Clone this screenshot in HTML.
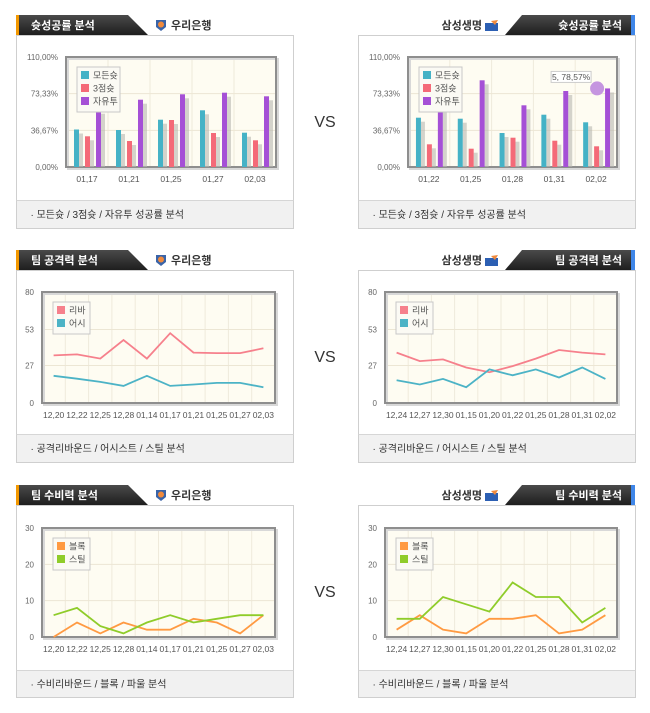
<!DOCTYPE html>
<html><head><meta charset="utf-8">
<style>
html,body{margin:0;padding:0;background:#fff;}
svg{display:block;font-family:"Liberation Sans","Noto Sans CJK KR",sans-serif;}
</style></head>
<body>
<svg id="page" width="650" height="713" viewBox="0 0 650 713" xmlns="http://www.w3.org/2000/svg"></svg>
<script>
// ---- data ----
const bar1Dates = ["01,17","01,21","01,25","01,27","02,03"];
const bar1Teal = [37.5, 37, 47.3, 56.7, 34.3];
const bar1Red = [30.7, 26, 47, 34, 26.7];
const bar1Purple = [57.3, 67.3, 72.7, 74.3, 70.7];
const bar2Dates = ["01,22","01,25","01,28","01,31","02,02"];
const bar2Teal = [49.3, 48.3, 34, 52.3, 44.7];
const bar2Red = [22.7, 18.3, 29.3, 26.3, 20.7];
const bar2Purple = [63, 86.7, 61.7, 76, 78.57];
const barTickValues = [0, 36.67, 73.33, 110];
const barTickLabels = ["0,00%","36,67%","73,33%","110,00%"];

const atk1Dates = ["12,20","12,22","12,25","12,28","01,14","01,17","01,21","01,25","01,27","02,03"];
const atk1Reb = [34.3, 35, 32, 45.4, 32, 50.3, 36.3, 36, 36, 39.4];
const atk1Ast = [19.6, 17.5, 15.2, 12.3, 19.6, 12.3, 13.3, 14.5, 14.5, 11.4];
const atk2Dates = ["12,24","12,27","12,30","01,15","01,20","01,22","01,25","01,28","01,31","02,02"];
const atk2Reb = [36.3, 30.2, 31.4, 25.6, 22.2, 26.6, 32, 38.2, 36.3, 35];
const atk2Ast = [16.4, 13.3, 17.4, 11.4, 24.2, 20, 24.2, 18.4, 25.6, 17.4];
const atkTickValues = [0, 27, 53, 80];
const atkTickLabels = ["0","27","53","80"];

const def1Dates = atk1Dates;
const def1Blk = [0, 4, 1, 4, 2, 2, 5, 4, 1, 6];
const def1Stl = [6, 8, 3, 1, 4, 6, 4, 5, 6, 6];
const def2Dates = atk2Dates;
const def2Blk = [2, 6, 2, 1, 5, 5, 6, 1, 2, 6];
const def2Stl = [5, 5, 11, 9, 7, 15, 11, 11, 4, 8];
const defTickValues = [0, 10, 20, 30];
const defTickLabels = ["0","10","20","30"];

const NS = "http://www.w3.org/2000/svg";
const svg = document.getElementById("page");
function mk(tag, attrs, parent, text){
  const e = document.createElementNS(NS, tag);
  for (const k in attrs) e.setAttribute(k, attrs[k]);
  if (text !== undefined) e.textContent = text;
  (parent || svg).appendChild(e);
  return e;
}
function yScale(min, max, top, bottom){ return v => bottom - (v - min) / (max - min) * (bottom - top); }

const defs = mk("defs", {});
const g1 = mk("linearGradient", {id:"tabg", x1:"0", y1:"0", x2:"0", y2:"1"}, defs);
mk("stop", {offset:"0", "stop-color":"#4a4a4a"}, g1);
mk("stop", {offset:"1", "stop-color":"#1e1e1e"}, g1);

function panel(side, top, boxTop, footTop, bottom, title, team, footText){
  const left = side === "L";
  const bx = left ? 16.5 : 358.5, bw = 277;
  const box = mk("rect", {x:bx, y:boxTop+0.5, width:bw, height:bottom-boxTop, fill:"#fff", stroke:"#cfcfcf"});
  
  
  const foot = mk("rect", {x:bx+0.5, y:footTop, width:bw-1, height:bottom-footTop, fill:"#f1f1f1"});
  
  
  mk("line", {x1:bx, x2:bx+bw, y1:footTop+0.5, y2:footTop+0.5, stroke:"#d6d6d6"});
  const ft = mk("text", {x:bx+14, y:(footTop+bottom)/2+4, "font-size":"10", fill:"#333"}, svg, "·  " + footText);
  
  
  const h = boxTop - top;
  if (left){
    const tab = mk("path", {d:`M16 ${top} H128 L148 ${boxTop} H16 Z`, fill:"url(#tabg)"});
    
    
    mk("rect", {x:16, y:top, width:3, height:h, fill:"#f39800"});
    const tt = mk("text", {x:31, y:top+14, "font-size":"11", "font-weight":"bold", fill:"#fff"}, svg, title);
    
    
    const ic = mk("g", {transform:`translate(155 ${top+4})`});
    
    
    mk("path", {d:"M1 1 H11 V8 L6 12 L1 8 Z", fill:"#3a64a8"}, ic);
    mk("circle", {cx:6, cy:5.5, r:3, fill:"#f08a3c"}, ic);
    const tn = mk("text", {x:171, y:top+14, "font-size":"11", "font-weight":"bold", fill:"#333"}, svg, team);
    
    
  } else {
    const tab = mk("path", {d:`M505 ${boxTop} L522 ${top} H633 V${boxTop} Z`, fill:"url(#tabg)"});
    
    
    mk("rect", {x:631, y:top, width:4, height:h, fill:"#3f86e8"});
    const tt = mk("text", {x:622, y:top+14, "font-size":"11", "font-weight":"bold", fill:"#fff", "text-anchor":"end"}, svg, title);
    
    
    const tn = mk("text", {x:482, y:top+14, "font-size":"11", "font-weight":"bold", fill:"#333", "text-anchor":"end"}, svg, team);
    
    
    const ic = mk("g", {transform:`translate(485 ${top+5})`});
    
    
    mk("rect", {x:0, y:3, width:13, height:8, fill:"#2c5fb3"}, ic);
    mk("path", {d:"M6 1 L13 0 L10 5 Z", fill:"#f08a3c"}, ic);
  }
}

function plotFrame(px, py, pw, ph, n, tickVals, tickLabels, min, max, labelX){
  const ys = yScale(min, max, py, py+ph);
  const bg = mk("rect", {x:px, y:py, width:pw, height:ph, fill:"#fefcf2"});
  
  
  for (let i=1;i<n;i++){
    const x = px + pw*i/n;
    mk("line", {x1:x, x2:x, y1:py, y2:py+ph, stroke:"#efeadb", "stroke-width":1});
  }
  tickVals.forEach((v,i)=>{
    const y = ys(v);
    mk("line", {x1:px, x2:px+pw, y1:y, y2:y, stroke:"#ece6d4", "stroke-width":1});
    const t = mk("text", {x:labelX, y:y+3, "font-size":"8", fill:"#666", "text-anchor":"end"}, svg, tickLabels[i]);
    
    
  });
  mk("rect", {x:px+2, y:py+2, width:pw, height:ph, fill:"none", stroke:"#d8d8d8", "stroke-width":2});
  const fr = mk("rect", {x:px, y:py, width:pw, height:ph, fill:"none", stroke:"#8e8e8e", "stroke-width":2});
  
  
  return ys;
}

function xLabels(px, pw, dates, y){
  const cw = pw / dates.length;
  dates.forEach((d,i)=>{
    const t = mk("text", {x:px+cw*(i+0.5), y:y, "font-size":"8.5", fill:"#555", "text-anchor":"middle"}, svg, d);
    
    
  });
}

function legend(x, y, w, items){
  const h = items.length*13 + 6;
  const lg = mk("g", {});
  
  
  mk("rect", {x:x, y:y, width:w, height:h, fill:"#fbfaf4", stroke:"#c8c8c8"}, lg);
  items.forEach((it,i)=>{
    const e = mk("g", {}, lg);
    
    
    mk("rect", {x:x+4, y:y+4+i*13, width:8, height:8, fill:it[1]}, e);
    mk("text", {x:x+16, y:y+11.5+i*13, "font-size":"9", fill:"#555"}, e, it[0]);
  });
}

function barChart(px, py, pw, ph, dates, teal, red, purple){
  const ys = plotFrame(px, py, pw, ph, dates.length, barTickValues, barTickLabels, 0, 110, px-8);
  const cw = pw / dates.length, s = cw/42, bw = 5*s;
  const series = [[teal,"#45b2c6",8,'bar-made-all'],[red,"#f46a78",19,'bar-made-3pt'],[purple,"#a550d6",30,'bar-made-ft']];
  dates.forEach((d,i)=>{
    series.forEach(sr=>{
      const v = sr[0][i], x = px + cw*i + sr[2]*s, y = ys(v);
      mk("rect", {x:x+bw, y:y+4, width:4, height:py+ph-y-4, fill:"#b8b8b0", opacity:0.6});
      const b = mk("rect", {x:x, y:y, width:bw, height:py+ph-y, fill:sr[1]});
      
      
    });
  });
  xLabels(px, pw, dates, py+ph+15);
  legend(px+11, py+10, 43, [["모든슛","#45b2c6"],["3점슛","#f46a78"],["자유투","#a550d6"]]);
  return {ys, cw};
}

function lineChart(px, py, pw, ph, dates, s1, s2, c1, c2, ticks, labels, max, names, lnames){
  const ys = plotFrame(px, py, pw, ph, dates.length, ticks, labels, 0, max, px-8);
  const cw = pw / dates.length;
  [[s1,c1,lnames[0]],[s2,c2,lnames[1]]].forEach(sr=>{
    const pts = sr[0].map((v,i)=>(px+cw*(i+0.5)).toFixed(1)+","+ys(v).toFixed(1)).join(" ");
    const l = mk("polyline", {points:pts, fill:"none", stroke:sr[1], "stroke-width":1.8});
    
    
  });
  xLabels(px, pw, dates, py+ph+15);
  legend(px+11, py+10, 37, [[names[0],c1],[names[1],c2]]);
}

panel("L", 15, 35, 200, 228, "슛성공률 분석", "우리은행", "모든슛 / 3점슛 / 자유투 성공률 분석");
panel("R", 15, 35, 200, 228, "슛성공률 분석", "삼성생명", "모든슛 / 3점슛 / 자유투 성공률 분석");
barChart(66, 57, 210, 110, bar1Dates, bar1Teal, bar1Red, bar1Purple);
const c2 = barChart(408, 57, 209, 110, bar2Dates, bar2Teal, bar2Red, bar2Purple);
{
  const i = bar2Purple.length-1, v = bar2Purple[i];
  const cx = 408 + c2.cw*(i+0.5) + 1, cy = c2.ys(v);
  const dot = mk("circle", {cx:cx, cy:cy, r:7, fill:"#c595e0"});
  
  
  const tip = mk("g", {});
  
  
  mk("rect", {x:cx-46, y:cy-17, width:40, height:11, fill:"#fff", stroke:"#ccc"}, tip);
  mk("text", {x:cx-26, y:cy-8.5, "font-size":"8.5", fill:"#555", "text-anchor":"middle"}, tip, (i+1)+", "+v.toFixed(2).replace(".",",")+"%");
}

panel("L", 250, 270, 434, 462, "팀 공격력 분석", "우리은행", "공격리바운드 / 어시스트 / 스틸 분석");
panel("R", 250, 270, 434, 462, "팀 공격력 분석", "삼성생명", "공격리바운드 / 어시스트 / 스틸 분석");
lineChart(42, 292, 233, 111, atk1Dates, atk1Reb, atk1Ast, "#f6808c", "#4cb3c6", atkTickValues, atkTickLabels, 80, ["리바","어시"], ["rebound-line","assist-line"]);
lineChart(385, 292, 232, 111, atk2Dates, atk2Reb, atk2Ast, "#f6808c", "#4cb3c6", atkTickValues, atkTickLabels, 80, ["리바","어시"], ["rebound-line","assist-line"]);

panel("L", 485, 505, 670, 697, "팀 수비력 분석", "우리은행", "수비리바운드 / 블록 / 파울 분석");
panel("R", 485, 505, 670, 697, "팀 수비력 분석", "삼성생명", "수비리바운드 / 블록 / 파울 분석");
lineChart(42, 528, 233, 109, def1Dates, def1Blk, def1Stl, "#ff9a42", "#8fcc2a", defTickValues, defTickLabels, 30, ["블록","스틸"], ["block-line","steal-line"]);
lineChart(385, 528, 232, 109, def2Dates, def2Blk, def2Stl, "#ff9a42", "#8fcc2a", defTickValues, defTickLabels, 30, ["블록","스틸"], ["block-line","steal-line"]);

[127, 362, 597].forEach(y=>{
  const t = mk("text", {x:325, y:y, "font-size":"16", fill:"#333", "text-anchor":"middle"}, svg, "VS");
  
  
});
</script>
</body></html>
